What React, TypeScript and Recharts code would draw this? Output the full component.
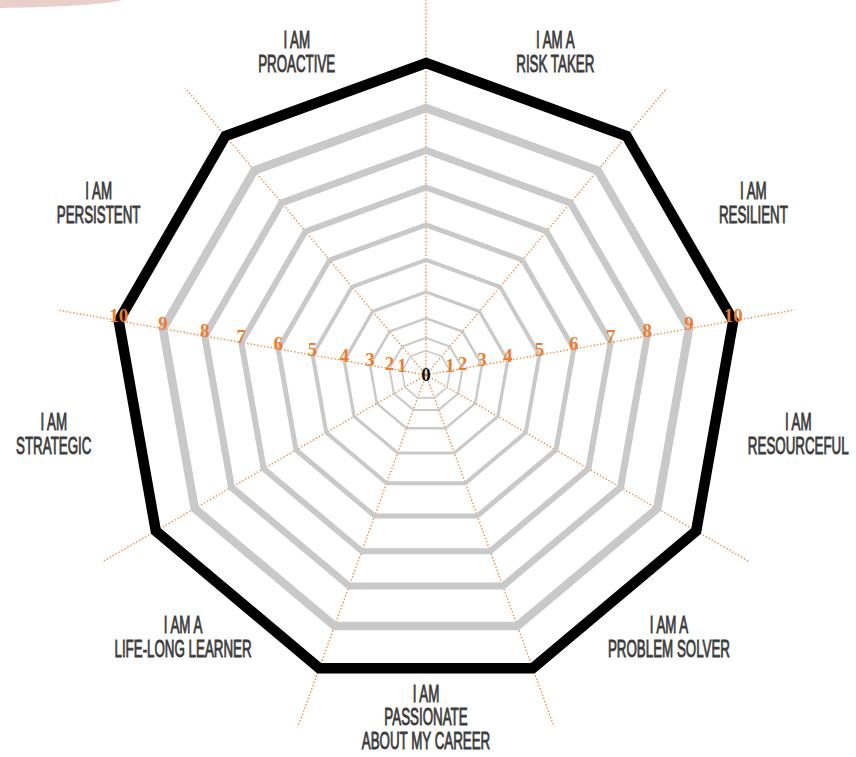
import { RadarChart, Radar, PolarGrid, PolarAngleAxis, PolarRadiusAxis } from 'recharts'

// one spoke per trait, label sits between its spoke and the next one
const categories = [
  'I AM A|RISK TAKER',
  'I AM|RESILIENT',
  'I AM|RESOURCEFUL',
  'I AM A|PROBLEM SOLVER',
  'I AM|PASSIONATE|ABOUT MY CAREER',
  'I AM A|LIFE-LONG LEARNER',
  'I AM|STRATEGIC',
  'I AM|PERSISTENT',
  'I AM|PROACTIVE',
]

const scoreLabels = ['1', '2', '3', '4', '5', '6', '7', '8', '9', '10']

// the rings in the original are not evenly spaced, these are read off the picture
const ringPositions = [0.78, 1.19, 1.82, 2.66, 3.69, 4.81, 6.01, 7.2, 8.56, 10]

const ringWidths = [1.6, 2, 2.5, 3.2, 4, 5, 6, 7, 8.5, 10.5]

const CX = 426
const CY = 375
const RING_10 = 312
// recharts rounds the radius domain up to 12 anyway
const AXIS_MAX = 12

const data = categories.map((subject) => {
  const row: any = { subject }
  ringPositions.forEach((v, i) => {
    row['ring' + scoreLabels[i]] = v
  })
  return row
})

const CategoryTick = (props: any) => {
  const { payload } = props
  const a = ((payload.coordinate - 20) * Math.PI) / 180
  const x = CX + 378 * Math.cos(a)
  const y = CY - 1 - 343 * Math.sin(a)
  const lines = String(payload.value).split('|')
  const top = y - ((lines.length - 1) * 24) / 2 + 8.5
  return (
    <g transform={`translate(${x},${top}) scale(0.58,1)`}>
      {lines.map((line, i) => (
        <text
          key={i}
          x={0}
          y={i * 24}
          textAnchor="middle"
          fontSize={23}
          fontFamily="'Liberation Sans', Arial, sans-serif"
          fill="#3b3b3b"
          stroke="#3b3b3b"
          strokeWidth={0.9}
        >
          {line}
        </text>
      ))}
    </g>
  )
}

const numStyle = {
  fontSize: 19,
  fontWeight: 'bold' as const,
  fontFamily: "'Liberation Serif', serif",
}

// right-hand axis comes from the library, the left one is its mirror image
const ScoreTick = (props: any) => {
  const { x, y, payload } = props
  if (payload.value === 0) {
    return (
      <text x={x} y={y + 6} textAnchor="middle" fill="#111" style={numStyle}>
        0
      </text>
    )
  }
  const idx = ringPositions.indexOf(payload.value)
  if (idx < 0) return <g />
  return (
    <g>
      <text x={x} y={y + 1} textAnchor="middle" fill="#ee7d2e" style={numStyle}>
        {scoreLabels[idx]}
      </text>
      <text x={2 * CX - x} y={y + 1} textAnchor="middle" fill="#ee7d2e" style={numStyle}>
        {scoreLabels[idx]}
      </text>
    </g>
  )
}

export default function App() {
  return (
    <div
      style={{
        position: 'absolute',
        left: 0,
        top: 0,
        width: 856,
        height: 757,
        overflow: 'hidden',
        background: '#fff',
      }}
    >
      <div
        style={{
          position: 'absolute',
          left: -165,
          top: -12,
          width: 290,
          height: 20,
          borderRadius: '50%',
          background: '#e9cfc9',
        }}
      />
      <RadarChart
        width={856}
        height={757}
        data={data}
        cx={CX}
        cy={CY}
        outerRadius={(RING_10 * AXIS_MAX) / 10}
        startAngle={90}
        endAngle={-270}
        margin={{ top: 0, right: 0, bottom: 0, left: 0 }}
        style={{ position: 'absolute', left: 0, top: 0 }}
      >
        <PolarAngleAxis dataKey="subject" tick={CategoryTick} tickLine={false} axisLine={false} />
        <PolarRadiusAxis
          angle={10}
          type="number"
          domain={[0, AXIS_MAX]}
          ticks={[0, ...ringPositions]}
          tick={ScoreTick}
          tickLine={false}
          axisLine={false}
        />
        {scoreLabels.map((s, i) => (
          <Radar
            key={s}
            dataKey={'ring' + s}
            fill="none"
            fillOpacity={0}
            stroke={i === scoreLabels.length - 1 ? '#000' : '#c9c9c9'}
            strokeWidth={ringWidths[i]}
            strokeLinejoin="miter"
            dot={false}
            isAnimationActive={false}
          />
        ))}
        <PolarGrid
          gridType="polygon"
          polarRadius={[]}
          stroke="#f08a3c"
          strokeWidth={1.4}
          strokeDasharray="1.4 2"
        />
      </RadarChart>
    </div>
  )
}
